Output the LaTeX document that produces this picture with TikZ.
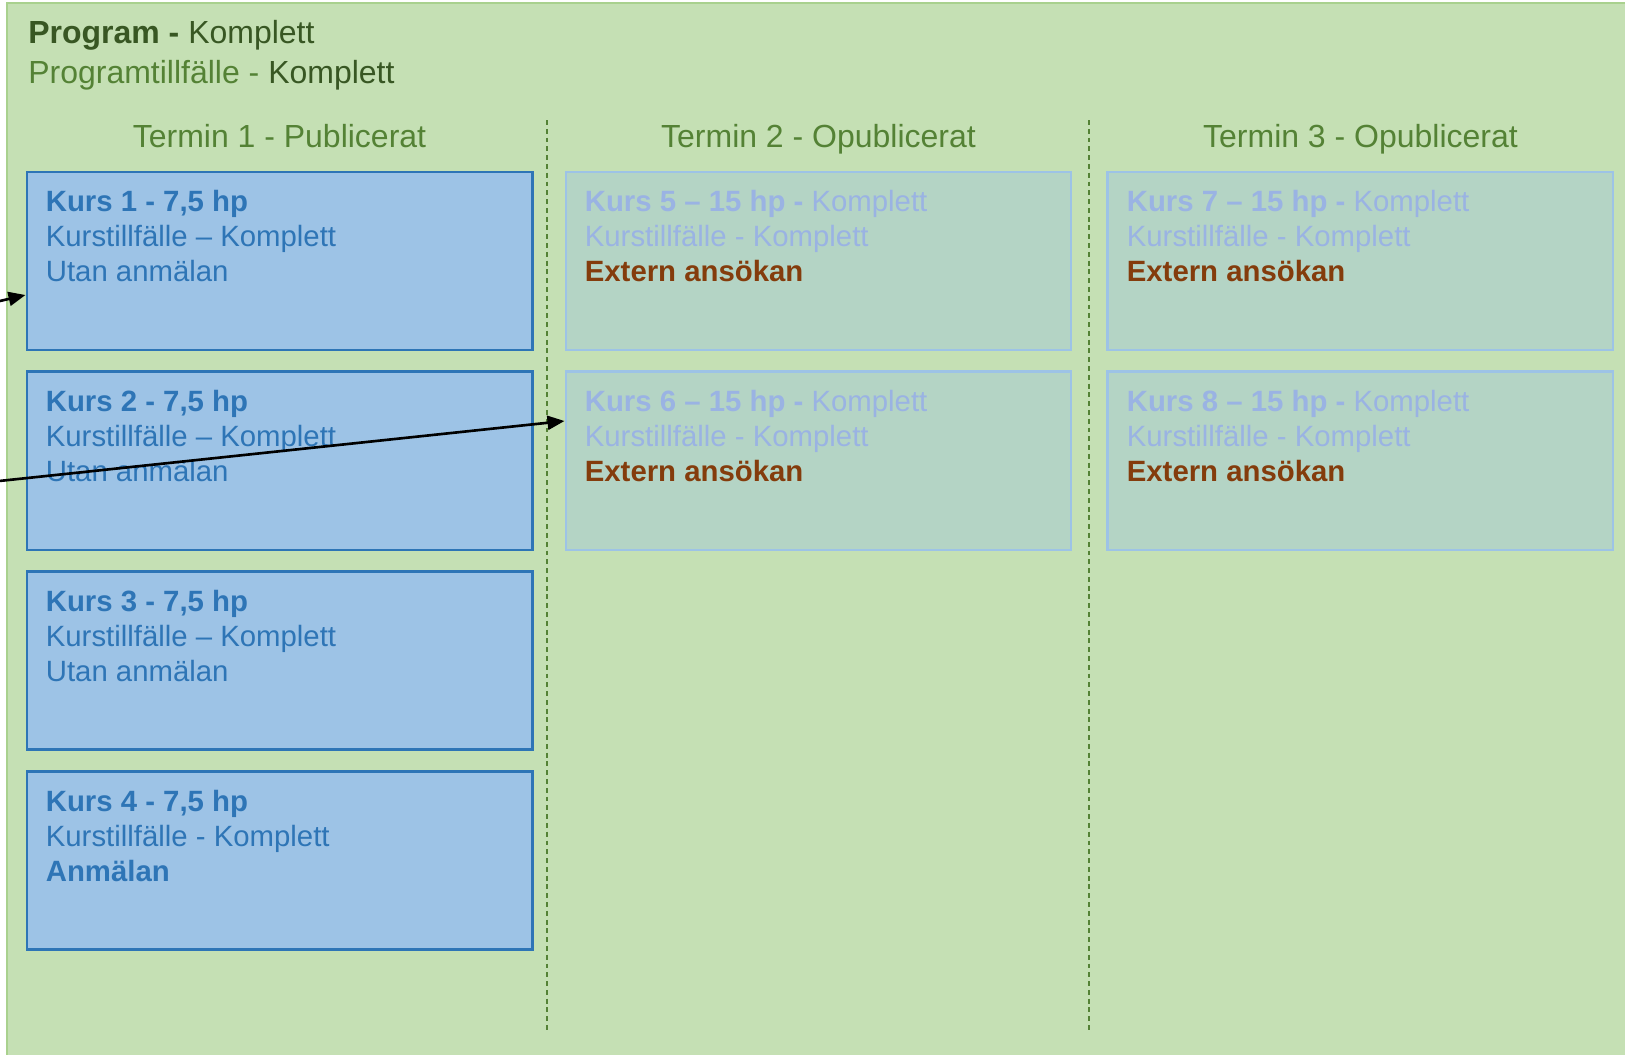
\documentclass[tikz,border=0pt]{standalone}
\usepackage{fontspec}
\setmainfont{Liberation Sans}
\usetikzlibrary{positioning,arrows.meta}

\definecolor{bggreen}{HTML}{C5E0B4}
\definecolor{bgline}{HTML}{A9D18E}
\definecolor{darkgreen}{HTML}{385723}
\definecolor{midgreen}{HTML}{548235}
\definecolor{kursfill}{HTML}{9DC3E6}
\definecolor{kursline}{HTML}{2E75B6}
\definecolor{fadefill}{HTML}{B4D4C5}
\definecolor{fadeline}{HTML}{9DC3E6}
\definecolor{fadetext}{HTML}{9AB3E3}
\definecolor{extern}{HTML}{843C0C}

\tikzset{
  kurs/.style={draw=kursline, fill=kursfill, line width=1.7pt,
    minimum width=10.1cm, minimum height=3.56cm},
  kursfaded/.style={draw=fadeline, fill=fadefill, line width=1.7pt,
    minimum width=10.1cm, minimum height=3.56cm},
  kurstext/.style={inner sep=0, align=left,
    font=\fontsize{16.7}{19.9}\selectfont},
  termin/.style={inner sep=0, text depth=0pt, text=midgreen,
    font=\fontsize{18.2}{22}\selectfont},
  header/.style={inner sep=0, anchor=base west,
    font=\fontsize{18.2}{22}\selectfont},
}

\begin{document}
\begin{tikzpicture}[>={Triangle[length=0.34cm,width=0.28cm]}]
  \useasboundingbox (0,0) rectangle (32.5,-21.1);
  \clip (0,0) rectangle (32.5,-21.1);

  % Green program frame
  \draw[bgline, fill=bggreen, line width=1.5pt] (0.14,-0.06) rectangle (34,-23);

  % Program header
  \node[header, text=darkgreen] (prog) at (0.56,-0.87) {\textbf{Program -} Komplett};
  \node[header] (progt) at (0.56,-1.66) {\textcolor{midgreen}{Programtillfälle -} \textcolor{darkgreen}{Komplett}};

  % Dashed lines between the terms
  \draw[midgreen, line width=0.6pt, dash pattern=on 2.8pt off 2.2pt] (10.94,-2.4) -- (10.94,-20.66);
  \draw[midgreen, line width=0.6pt, dash pattern=on 2.8pt off 2.2pt] (21.78,-2.4) -- (21.78,-20.66);

  % Term 1 courses
  \node[kurs] (k1) at (5.59,-5.22) {};
  \node[kurs, below=0.38cm of k1] (k2) {};
  \node[kurs, below=0.38cm of k2] (k3) {};
  \node[kurs, below=0.38cm of k3] (k4) {};
  \node[termin, above=0.46cm of k1] (t1) {Termin 1 - Publicerat};

  \node[kurstext, text=kursline, below right=0.38cm and 0.4cm of k1.north west] (k1txt)
    {\textbf{Kurs 1 - 7,5 hp}\\Kurstillfälle – Komplett\\Utan anmälan};
  \node[kurstext, text=kursline, below right=0.38cm and 0.4cm of k2.north west] (k2txt)
    {\textbf{Kurs 2 - 7,5 hp}\\Kurstillfälle – Komplett\\Utan anmälan};
  \node[kurstext, text=kursline, below right=0.38cm and 0.4cm of k3.north west] (k3txt)
    {\textbf{Kurs 3 - 7,5 hp}\\Kurstillfälle – Komplett\\Utan anmälan};
  \node[kurstext, text=kursline, below right=0.38cm and 0.4cm of k4.north west] (k4txt)
    {\textbf{Kurs 4 - 7,5 hp}\\Kurstillfälle - Komplett\\\textbf{Anmälan}};

  % Term 2 courses
  \node[kursfaded, right=0.62cm of k1] (k5) {};
  \node[kursfaded, below=0.38cm of k5] (k6) {};
  \node[termin, above=0.46cm of k5] (t2) {Termin 2 - Opublicerat};

  \node[kurstext, text=fadetext, below right=0.38cm and 0.4cm of k5.north west] (k5txt)
    {\textbf{Kurs 5 – 15 hp -} Komplett\\Kurstillfälle - Komplett\\\textcolor{extern}{\textbf{Extern ansökan}}};
  \node[kurstext, text=fadetext, below right=0.38cm and 0.4cm of k6.north west] (k6txt)
    {\textbf{Kurs 6 – 15 hp -} Komplett\\Kurstillfälle - Komplett\\\textcolor{extern}{\textbf{Extern ansökan}}};

  % Term 3 courses
  \node[kursfaded, right=0.68cm of k5] (k7) {};
  \node[kursfaded, below=0.38cm of k7] (k8) {};
  \node[termin, above=0.46cm of k7] (t3) {Termin 3 - Opublicerat};

  \node[kurstext, text=fadetext, below right=0.38cm and 0.4cm of k7.north west] (k7txt)
    {\textbf{Kurs 7 – 15 hp -} Komplett\\Kurstillfälle - Komplett\\\textcolor{extern}{\textbf{Extern ansökan}}};
  \node[kurstext, text=fadetext, below right=0.38cm and 0.4cm of k8.north west] (k8txt)
    {\textbf{Kurs 8 – 15 hp -} Komplett\\Kurstillfälle - Komplett\\\textcolor{extern}{\textbf{Extern ansökan}}};

  % Arrows coming in from the left
  \coordinate (in1) at (-0.3,-6.09);
  \coordinate (in2) at (-0.3,-9.65);
  \draw[->, line width=1.5pt] (in1) -- ([yshift=-0.68cm]k1.west);
  \draw[->, line width=1.5pt] (in2) -- ([yshift=0.8cm]k6.west);
\end{tikzpicture}
\end{document}
